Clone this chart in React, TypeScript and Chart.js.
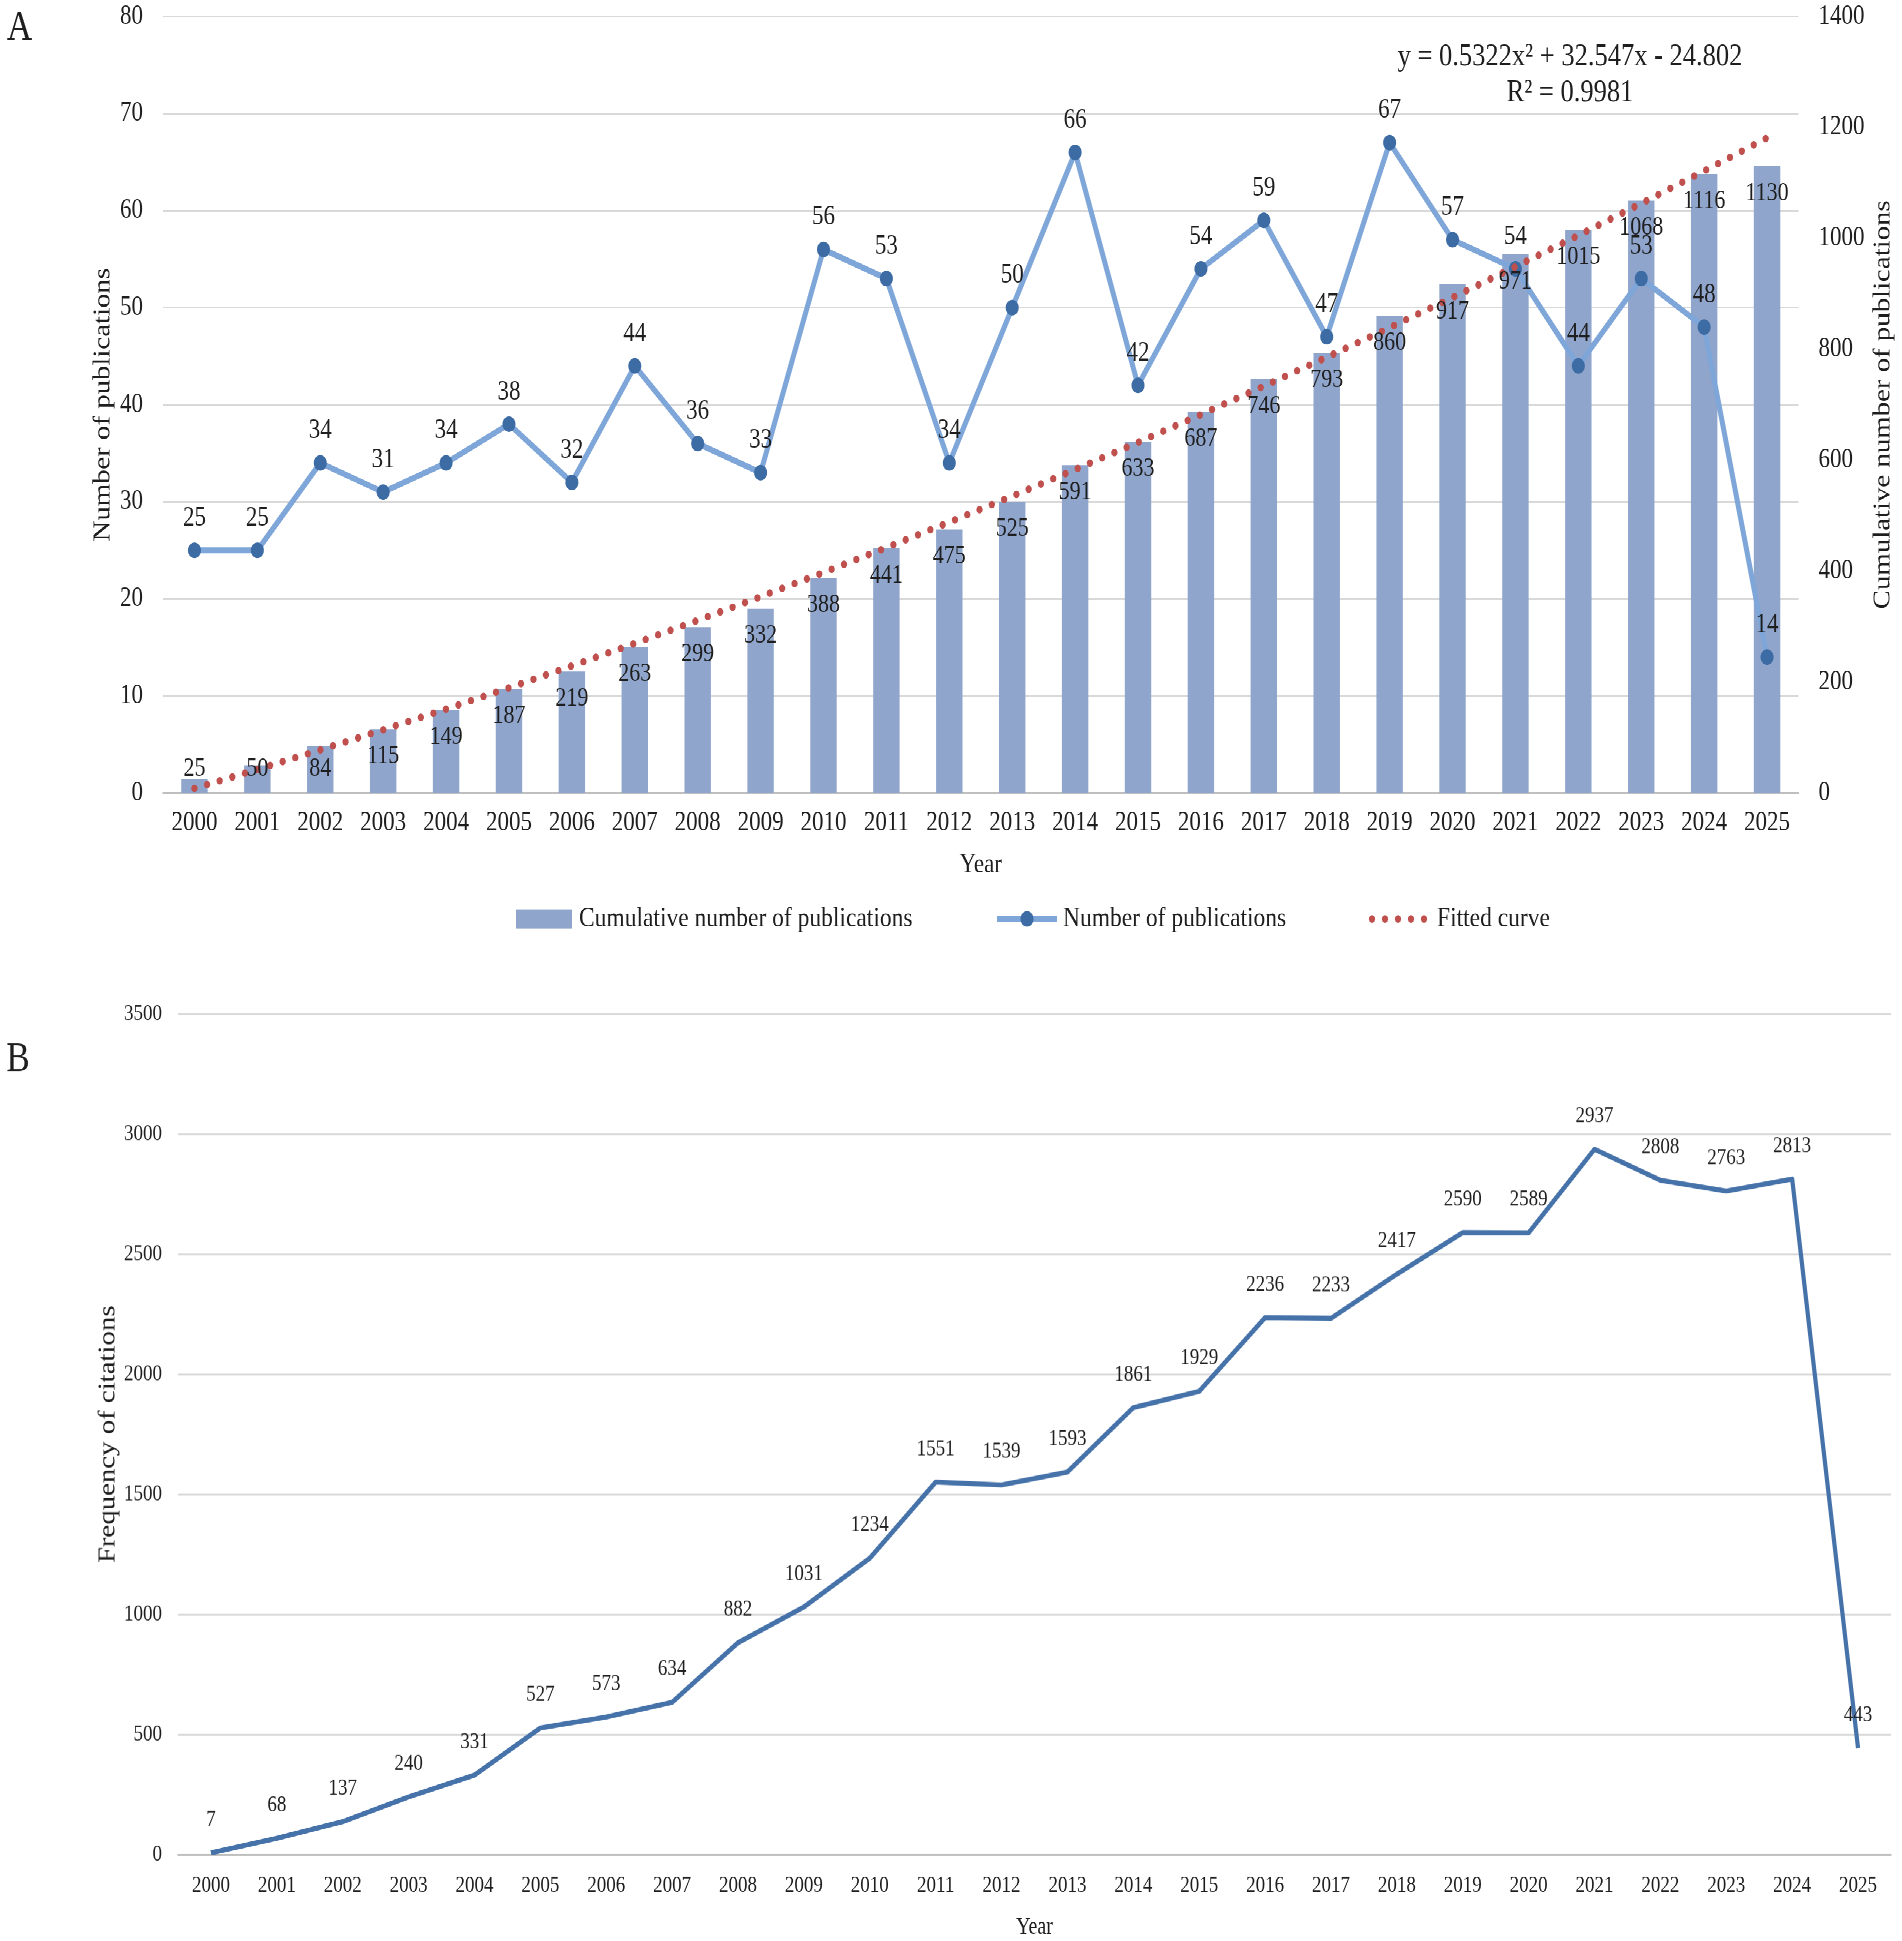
import { useEffect, useRef } from 'react';
import { Chart, registerables } from 'chart.js';

Chart.register(...registerables);

// ---- data ----
const years = [
  '2000', '2001', '2002', '2003', '2004', '2005', '2006', '2007', '2008', '2009', '2010', '2011', '2012',
  '2013', '2014', '2015', '2016', '2017', '2018', '2019', '2020', '2021', '2022', '2023', '2024', '2025',
];
const publications = [25, 25, 34, 31, 34, 38, 32, 44, 36, 33, 56, 53, 34, 50, 66, 42, 54, 59, 47, 67, 57, 54, 44, 53, 48, 14];
const cumulative = [
  25, 50, 84, 115, 149, 187, 219, 263, 299, 332, 388, 441, 475, 525, 591, 633, 687, 746, 793, 860, 917, 971, 1015, 1068, 1116, 1130,
];
// trend line values as printed by the fit (y = 0.5322x² + 32.547x - 24.802)
const fitted = [
  8.3, 42.4, 77.6, 113.9, 151.2, 189.6, 229.1, 269.6, 311.2, 353.9, 397.6, 442.4, 488.3, 535.2, 583.1, 632.2, 682.3, 733.5,
  785.7, 839.0, 893.4, 948.8, 1005.3, 1062.9, 1121.5, 1181.2,
];
const citations = [
  7, 68, 137, 240, 331, 527, 573, 634, 882, 1031, 1234, 1551, 1539, 1593, 1861, 1929, 2236, 2233, 2417, 2590, 2589, 2937, 2808,
  2763, 2813, 443,
];
const fitEquation = 'y = 0.5322x² + 32.547x - 24.802';
const fitR2 = 'R² = 0.9981';

// axis ranges
const pubMax = 80;
const pubStep = 10;
const cumMax = 1400;
const cumStep = 200;
const citMax = 3500;
const citStep = 500;

// ---- look ----
const FONT = '"Liberation Serif", "Times New Roman", Times, serif';
const TEXT = '#1e1e1e';
const GRID = '#d9d9d9';
const AXIS = '#bfbfbf';
const BAR = '#8fa5cc';
const LINE = '#7ea6d8';
const MARKER = '#3d6ca5';
const FIT = '#c0504d';
const CITE = '#4672aa';

// the source figure is stretched vertically, so lay out in a shorter box and scale it up
const STRETCH = 1.2;
const PAGE_W = 1902;
const PAGE_H = 1941;
const HEIGHT_A = 800;
const HEIGHT_B = PAGE_H / STRETCH - HEIGHT_A;

const font = (size: number) => `${size}px ${FONT}`;
const plain = (v: any) => String(v);

Chart.defaults.font.family = FONT;
Chart.defaults.color = TEXT;

// fixed axis box sizes, and no extra room for the end tick labels
const fixWidth = (w: number) => (s: any) => {
  s.width = w;
  s.paddingTop = 0;
  s.paddingBottom = 0;
};
const fixHeight = (h: number) => (s: any) => {
  s.height = h;
};

// value labels: 'above' the point, or 'inside' the end of the bar
const valueLabels = {
  id: 'valueLabels',
  afterDatasetsDraw(chart: any) {
    const { ctx } = chart;
    chart.data.datasets.forEach((ds: any, i: number) => {
      if (!ds.labelMode) return;
      const meta = chart.getDatasetMeta(i);
      ctx.save();
      ctx.font = font(ds.labelSize);
      ctx.fillStyle = TEXT;
      ctx.textAlign = 'center';
      ctx.textBaseline = 'middle';
      meta.data.forEach((el: any, j: number) => {
        const y = ds.labelMode === 'inside' ? Math.min(el.y + 22.5, el.base - 20) : el.y - ds.labelGap;
        ctx.fillText(plain(ds.data[j]), el.x, y);
      });
      ctx.restore();
    });
  },
};

const panelA = {
  id: 'panelA',
  afterDraw(chart: any) {
    const { ctx, chartArea } = chart;
    const sets = chart.data.datasets;

    ctx.save();
    ctx.fillStyle = TEXT;
    ctx.textAlign = 'center';
    ctx.textBaseline = 'middle';
    ctx.font = font(35);
    ctx.fillText('A', 19.5, 24);
    ctx.font = font(26.5);
    ctx.fillText(fitEquation, 1570, 47.5);
    ctx.fillText(fitR2, 1570, 77.5);

    // right axis title reads bottom to top
    ctx.font = font(24);
    ctx.translate(1883, (chartArea.top + chartArea.bottom) / 2);
    ctx.rotate(-Math.PI / 2);
    ctx.fillText('Cumulative number of publications', 0, 0);
    ctx.restore();

    // legend
    const ly = 765.8;
    ctx.save();
    ctx.fillStyle = BAR;
    ctx.fillRect(516, ly - 8, 56, 16);

    ctx.strokeStyle = LINE;
    ctx.lineWidth = 5;
    ctx.beginPath();
    ctx.moveTo(997, ly);
    ctx.lineTo(1057, ly);
    ctx.stroke();
    ctx.fillStyle = MARKER;
    ctx.beginPath();
    ctx.arc(1027, ly, 6.5, 0, Math.PI * 2);
    ctx.fill();

    ctx.strokeStyle = FIT;
    ctx.lineWidth = 6.3;
    ctx.lineCap = 'round';
    ctx.setLineDash([0, 13]);
    ctx.beginPath();
    ctx.moveTo(1372, ly);
    ctx.lineTo(1431, ly);
    ctx.stroke();
    ctx.setLineDash([]);

    ctx.fillStyle = TEXT;
    ctx.font = font(23.5);
    ctx.textAlign = 'left';
    ctx.textBaseline = 'middle';
    ctx.fillText(sets[2].label, 579, ly);
    ctx.fillText(sets[1].label, 1063, ly);
    ctx.fillText(sets[0].label, 1437, ly);
    ctx.restore();
  },
};

const panelB = {
  id: 'panelB',
  afterDraw(chart: any) {
    const { ctx } = chart;
    ctx.save();
    ctx.fillStyle = TEXT;
    ctx.textAlign = 'center';
    ctx.textBaseline = 'middle';
    ctx.font = font(35);
    ctx.fillText('B', 18, 83.3);
    ctx.restore();
  },
};

function PublicationsChart() {
  const chartRef = useRef<HTMLCanvasElement | null>(null);
  const chartInstance = useRef<Chart | null>(null);

  useEffect(() => {
    if (!chartRef.current) return;
    if (chartInstance.current) chartInstance.current.destroy();

    chartInstance.current = new Chart(chartRef.current, {
      type: 'bar',
      data: {
        labels: years,
        datasets: [
          {
            type: 'line',
            label: 'Fitted curve',
            data: fitted,
            yAxisID: 'y1',
            borderColor: FIT,
            borderWidth: 6.3,
            borderDash: [0, 13],
            borderCapStyle: 'round',
            pointRadius: 0,
            fill: false,
            order: 1,
          },
          {
            type: 'line',
            label: 'Number of publications',
            data: publications,
            yAxisID: 'y',
            borderColor: LINE,
            borderWidth: 5,
            borderJoinStyle: 'round',
            pointRadius: 6.5,
            pointBackgroundColor: MARKER,
            pointBorderWidth: 0,
            fill: false,
            order: 2,
            labelMode: 'above',
            labelGap: 26.7,
            labelSize: 23,
          },
          {
            type: 'bar',
            label: 'Cumulative number of publications',
            data: cumulative,
            yAxisID: 'y1',
            backgroundColor: BAR,
            categoryPercentage: 1,
            barPercentage: 0.42,
            order: 3,
            labelMode: 'inside',
            labelSize: 22,
          },
        ] as any,
      },
      options: {
        responsive: true,
        maintainAspectRatio: false,
        animation: false,
        devicePixelRatio: 2,
        layout: { padding: { top: 13.75, left: 0, right: 0, bottom: 60 }, autoPadding: false } as any,
        plugins: { legend: { display: false }, tooltip: { enabled: false } },
        scales: {
          x: {
            offset: true,
            grid: { display: false, drawTicks: false },
            border: { display: true, color: AXIS, width: 1.5 },
            ticks: { font: { size: 23 }, color: TEXT, padding: 11.6, maxRotation: 0, autoSkip: false },
            title: { display: true, text: 'Year', font: { size: 23 }, color: TEXT, padding: { top: 0, bottom: 5.4 } },
            afterFit: fixHeight(79.2),
          },
          y: {
            position: 'left',
            min: 0,
            max: pubMax,
            ticks: { stepSize: pubStep, font: { size: 23 }, color: TEXT, padding: 20, callback: plain },
            grid: { color: GRID, lineWidth: 1.5, drawTicks: false },
            border: { display: false },
            title: {
              display: true,
              text: 'Number of publications',
              font: { size: 24 },
              color: TEXT,
              padding: { top: 88.6, bottom: 0 },
            },
            afterFit: fixWidth(163),
          },
          y1: {
            position: 'right',
            min: 0,
            max: cumMax,
            ticks: { stepSize: cumStep, font: { size: 23 }, color: TEXT, padding: 20, callback: plain },
            grid: { display: false, drawTicks: false },
            border: { display: false },
            afterFit: fixWidth(103.5),
          },
        } as any,
      },
      plugins: [valueLabels, panelA],
    });

    return () => {
      if (chartInstance.current) {
        chartInstance.current.destroy();
        chartInstance.current = null;
      }
    };
  }, []);

  return (
    <div style={{ position: 'relative', width: PAGE_W, height: HEIGHT_A }}>
      <canvas ref={chartRef}></canvas>
    </div>
  );
}

function CitationsChart() {
  const chartRef = useRef<HTMLCanvasElement | null>(null);
  const chartInstance = useRef<Chart | null>(null);

  useEffect(() => {
    if (!chartRef.current) return;
    if (chartInstance.current) chartInstance.current.destroy();

    chartInstance.current = new Chart(chartRef.current, {
      type: 'line',
      data: {
        labels: years,
        datasets: [
          {
            label: 'Frequency of citations',
            data: citations,
            borderColor: CITE,
            borderWidth: 4.2,
            borderJoinStyle: 'round',
            pointRadius: 0,
            fill: false,
            labelMode: 'above',
            labelGap: 27.5,
            labelSize: 19,
          },
        ] as any,
      },
      options: {
        responsive: true,
        maintainAspectRatio: false,
        animation: false,
        devicePixelRatio: 2,
        layout: { padding: { top: 45, left: 0, right: 11, bottom: 0 }, autoPadding: false } as any,
        plugins: { legend: { display: false }, tooltip: { enabled: false } },
        scales: {
          x: {
            offset: true,
            grid: { display: false, drawTicks: false },
            border: { display: true, color: AXIS, width: 1.5 },
            ticks: { font: { size: 19 }, color: TEXT, padding: 14.4, maxRotation: 0, autoSkip: false },
            title: { display: true, text: 'Year', font: { size: 20 }, color: TEXT, padding: { top: 0, bottom: 0 } },
            afterFit: fixHeight(HEIGHT_B - 745),
          },
          y: {
            min: 0,
            max: citMax,
            ticks: { stepSize: citStep, font: { size: 19 }, color: TEXT, padding: 16, callback: plain },
            grid: { color: GRID, lineWidth: 1.5, drawTicks: false },
            border: { display: false },
            title: {
              display: true,
              text: 'Frequency of citations',
              font: { size: 24 },
              color: TEXT,
              padding: { top: 93.6, bottom: 0 },
            },
            afterFit: fixWidth(178),
          },
        } as any,
      },
      plugins: [valueLabels, panelB],
    });

    return () => {
      if (chartInstance.current) {
        chartInstance.current.destroy();
        chartInstance.current = null;
      }
    };
  }, []);

  return (
    <div style={{ position: 'relative', width: PAGE_W, height: HEIGHT_B }}>
      <canvas ref={chartRef}></canvas>
    </div>
  );
}

export default function App() {
  useEffect(() => {
    document.body.style.margin = '0';
  }, []);

  return (
    <div style={{ width: PAGE_W, height: PAGE_H, overflow: 'hidden', background: '#fff' }}>
      <div
        style={{
          width: PAGE_W,
          height: PAGE_H / STRETCH,
          transform: `scaleY(${STRETCH})`,
          transformOrigin: '0 0',
        }}
      >
        <PublicationsChart />
        <CitationsChart />
      </div>
    </div>
  );
}
